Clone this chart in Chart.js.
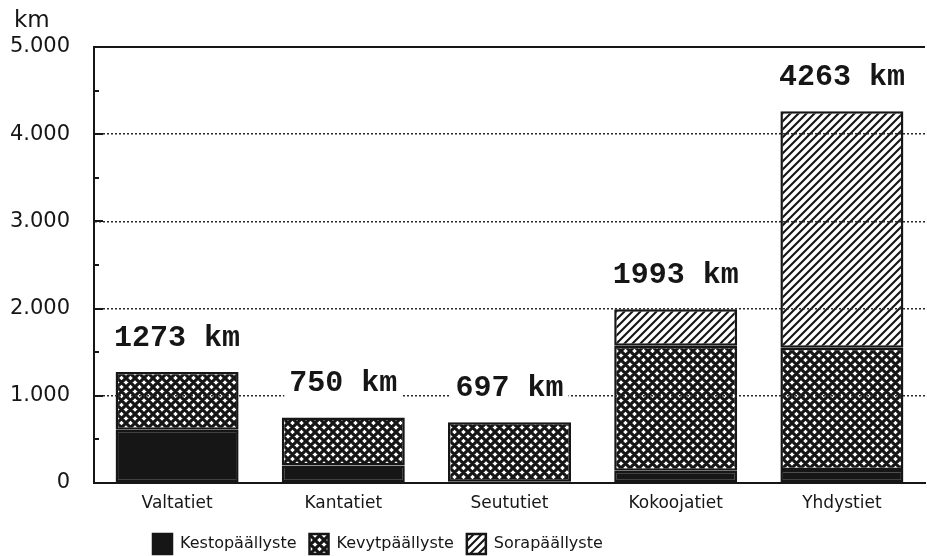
<!DOCTYPE html>
<html>
<head>
<meta charset="utf-8">
<script src="https://cdn.jsdelivr.net/npm/chart.js@4.4.1/dist/chart.umd.min.js"></script>
<style>
  html, body { margin: 0; padding: 0; background: #fff; }
</style>
</head>
<body>
<canvas id="chart" width="927" height="556"></canvas>
<script>
// chart data
var categories = ['Valtatiet', 'Kantatiet', 'Seututiet', 'Kokoojatiet', 'Yhdystiet'];
var kestopaallyste = [610, 200, 15, 140, 150];
var kevytpaallyste = [663, 550, 682, 1435, 1400];
var sorapaallyste = [0, 0, 0, 418, 2713];
var totals = [1273, 750, 697, 1993, 4263];
var seriesNames = ['Kestopäällyste', 'Kevytpäällyste', 'Sorapäällyste'];

var INK = '#161616';
var FONT = '"DejaVu Sans", sans-serif';

// hatch fills
function makePattern(size, draw) {
    var c = document.createElement('canvas');
    c.width = size;
    c.height = size;
    var g = c.getContext('2d');
    g.fillStyle = '#fff';
    g.fillRect(0, 0, size, size);
    g.strokeStyle = INK;
    draw(g, size);
    return g.createPattern(c, 'repeat');
}

var ctx = document.getElementById('chart').getContext('2d');

var crossHatch = makePattern(9, function (g, s) {
    g.lineWidth = 3.1;
    g.beginPath();
    for (var k = -1; k <= 1; k++) {
        g.moveTo(k * s - 1, -1); g.lineTo(k * s + s + 1, s + 1);
        g.moveTo(k * s + s + 1, -1); g.lineTo(k * s - 1, s + 1);
    }
    g.stroke();
});

var diagHatch = makePattern(8, function (g, s) {
    g.lineWidth = 2.1;
    g.beginPath();
    for (var k = -1; k <= 1; k++) {
        g.moveTo(k * s - 1, s + 1); g.lineTo(k * s + s + 1, -1);
    }
    g.stroke();
});

function thousands(v) {
    return String(v).replace(/\B(?=(\d{3})+(?!\d))/g, '.');
}

// minor ticks, unit label and the total above every bar
var annotations = {
    id: 'annotations',
    afterLayout: function (chart) {
        // legend sits left of centre and a bit lower in the original
        chart.legend.left = 140;
        chart.legend.top += 8;
        chart.legend.bottom += 8;
    },
    afterDraw: function (chart) {
        var c = chart.ctx;
        var area = chart.chartArea;
        var x = chart.scales.x;
        var y = chart.scales.y;

        c.save();
        c.strokeStyle = INK;
        c.lineWidth = 2;
        for (var v = 500; v < 5000; v += 500) {
            var py = Math.round(y.getPixelForValue(v));
            c.beginPath();
            c.moveTo(area.left, py);
            c.lineTo(area.left + (v % 1000 === 0 ? 9 : 5), py);
            c.stroke();
        }

        c.fillStyle = INK;
        c.font = '23px ' + FONT;
        c.textAlign = 'left';
        c.textBaseline = 'alphabetic';
        c.fillText('km', 14, area.top - 20);

        c.font = 'bold 30px "Liberation Mono", monospace';
        c.textAlign = 'center';
        c.textBaseline = 'middle';
        totals.forEach(function (t, i) {
            var px = x.getPixelForValue(i);
            var ty = y.getPixelForValue(t) - 34;
            var txt = t + ' km';
            var w = c.measureText(txt).width;
            c.fillStyle = '#fff';
            c.fillRect(px - w / 2 - 5, ty - 15, w + 10, 30);
            c.fillStyle = INK;
            c.fillText(txt, px, ty);
        });
        c.restore();
    }
};

Chart.defaults.font.family = FONT;
Chart.defaults.color = INK;

new Chart(ctx, {
    type: 'bar',
    data: {
        labels: categories,
        datasets: [
            { label: seriesNames[0], data: kestopaallyste, backgroundColor: INK },
            { label: seriesNames[1], data: kevytpaallyste, backgroundColor: crossHatch },
            { label: seriesNames[2], data: sorapaallyste, backgroundColor: diagHatch }
        ]
    },
    options: {
        responsive: false,
        animation: false,
        devicePixelRatio: 1,
        layout: { padding: { top: 47, right: 2, left: 0, bottom: 0 } },
        datasets: {
            bar: {
                borderColor: INK,
                borderWidth: 2.5,
                borderSkipped: false,
                barPercentage: 0.74,
                categoryPercentage: 1
            }
        },
        scales: {
            x: {
                stacked: true,
                grid: { display: false, drawTicks: false },
                border: { color: INK, width: 2, z: 2 },
                ticks: { padding: 10, font: { size: 17 } },
                afterFit: function (s) { s.height = 30; }
            },
            y: {
                stacked: true,
                min: 0,
                max: 5000,
                ticks: {
                    stepSize: 1000,
                    padding: 24,
                    font: { size: 21 },
                    callback: function (v) { return thousands(v); }
                },
                grid: {
                    z: 1,
                    drawTicks: false,
                    color: function (c) {
                        if (c.tick && c.tick.value === 0) return 'rgba(0,0,0,0)';
                        return c.tick && c.tick.value === 5000 ? INK : '#2a2a2a';
                    },
                    lineWidth: function (c) {
                        return c.tick && c.tick.value === 5000 ? 2 : 1.5;
                    }
                },
                border: {
                    color: INK,
                    width: 2,
                    z: 2,
                    dash: function (c) {
                        return c.tick && c.tick.value !== 5000 ? [2, 2] : [];
                    }
                },
                afterFit: function (s) { s.width = 94; }
            }
        },
        plugins: {
            legend: {
                position: 'bottom',
                align: 'start',
                labels: {
                    boxWidth: 19,
                    boxHeight: 20,
                    padding: 13,
                    font: { size: 16 }
                }
            },
            tooltip: { enabled: false }
        }
    },
    plugins: [annotations]
});
</script>
</body>
</html>
